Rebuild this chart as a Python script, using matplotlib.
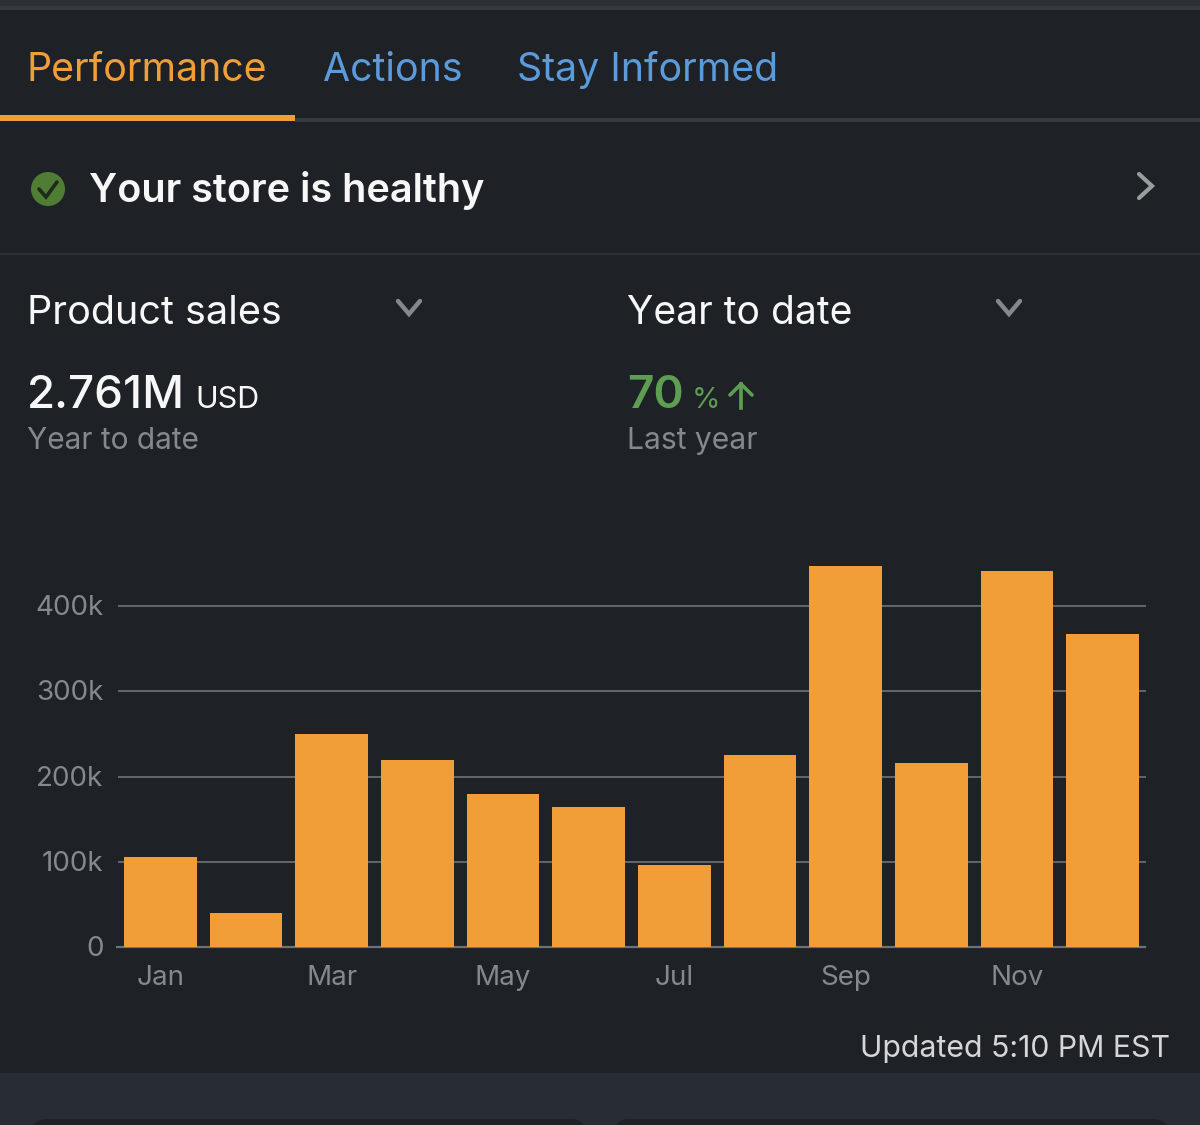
import matplotlib
matplotlib.use('Agg')
import matplotlib.pyplot as plt
from matplotlib.patches import Circle, FancyBboxPatch, Rectangle
from matplotlib.transforms import ScaledTranslation

months = ['Jan', 'Feb', 'Mar', 'Apr', 'May', 'Jun', 'Jul', 'Aug', 'Sep', 'Oct', 'Nov', 'Dec']
sales_k = [105.5, 40, 250, 219, 179.5, 164, 96, 225, 447, 216, 441, 367]
y_ticks = [0, 100, 200, 300, 400]
y_labels = ['0', '100k', '200k', '300k', '400k']
shown_months = ['Jan', 'Mar', 'May', 'Jul', 'Sep', 'Nov']

BG = '#1e2227'
PANEL = '#282c34'
ORANGE = '#f29e38'
BLUE = '#5b9bdc'
GREEN = '#5e9e52'
GREY = '#85888c'
WHITE = '#f7f7f7'
W, H = 1200, 1125

plt.rcParams['font.family'] = ['Inter', 'DejaVu Sans']

fig = plt.figure(figsize=(W / 100, H / 100), dpi=100, facecolor=BG)

# page furniture, laid out in pixels
ui = fig.add_axes([0, 0, 1, 1])
ui.set_xlim(0, W)
ui.set_ylim(H, 0)
ui.axis('off')

ui.add_patch(Rectangle((0, 0), W, 6, color='#2b2e33', lw=0))
ui.add_patch(Rectangle((0, 6), W, 4, color='#35383d', lw=0))
ui.add_patch(Rectangle((295, 118), W - 295, 4, color='#353a42', lw=0))
ui.add_patch(Rectangle((0, 115), 295, 6, color=ORANGE, lw=0))
ui.add_patch(Rectangle((0, 253), W, 2, color='#2c3036', lw=0))
ui.add_patch(Rectangle((0, 1073), W, H - 1073, color=PANEL, lw=0))
for x0 in (32, 615):
    ui.add_patch(FancyBboxPatch((x0 + 14, 1133), 553 - 28, 20, boxstyle='round,pad=14',
                                fc=BG, ec='none'))


def label(x, y, s, size, color, weight='normal', ha='left'):
    ui.text(x, y, s, fontsize=size, color=color, fontweight=weight, ha=ha, va='baseline')


def chevron(pts, color, lw):
    xs, ys = zip(*pts)
    ui.plot(xs, ys, color=color, lw=lw, solid_capstyle='round', solid_joinstyle='miter')


label(26.5, 81, 'Performance', 28.3, ORANGE)
label(323, 81, 'Actions', 28.3, BLUE)
label(517, 81, 'Stay Informed', 28.3, BLUE)

ui.add_patch(Circle((48, 189), 17, fc='#4f7d34', ec='none'))
chevron([(39, 189), (46, 197), (57, 182)], '#1e2a1c', 2.6)
label(89, 202, 'Your store is healthy', 28.5, WHITE, weight='semibold')
chevron([(1139, 174), (1152, 186), (1139, 198)], '#9a9da0', 3)

label(27, 324, 'Product sales', 28.5, WHITE)
chevron([(398, 301), (409, 314), (420, 301)], '#85888c', 3.2)
label(627, 324, 'Year to date', 28.1, WHITE)
chevron([(998, 301), (1009, 314), (1020, 301)], '#85888c', 3.2)

label(27, 408, '2.761M', 33, WHITE, weight='medium')
label(195, 408, 'USD', 22, WHITE)
label(27, 449, 'Year to date', 21.5, GREY)

label(627, 408, '70', 33, GREEN, weight='semibold')
label(692, 408, '%', 21, GREEN)
ui.plot([741, 741], [408, 384], color=GREEN, lw=2.6)
chevron([(730, 395), (741, 384), (752, 395)], GREEN, 2.6)
label(627, 449, 'Last year', 21.6, GREY)

label(1170, 1057, 'Updated 5:10 PM EST', 21.8, '#d5d6d8', ha='right')

# monthly sales bars
left, right, top, bottom = 117.5, 1145.5, 555, 947
ax = fig.add_axes([left / W, 1 - bottom / H, (right - left) / W, (bottom - top) / H])
ax.set_facecolor('none')
ax.bar(range(len(months)), sales_k, width=0.852, color=ORANGE, zorder=3)
ax.set_xlim(-0.5, 11.5)
ax.set_ylim(0, (bottom - top) / 0.8525)
ax.set_yticks(y_ticks)
ax.set_yticklabels(y_labels)
ax.set_xticks([months.index(m) for m in shown_months])
ax.set_xticklabels(shown_months)
ax.tick_params(length=0, labelsize=20, labelcolor=GREY)
ax.tick_params(axis='y', pad=10)
ax.tick_params(axis='x', pad=13)
# y labels sit slightly above their grid lines
nudge = ScaledTranslation(0, 1 / 100, fig.dpi_scale_trans)
for t in ax.get_yticklabels():
    t.set_transform(t.get_transform() + nudge)
ax.grid(axis='y', color='#6f7377', linewidth=1.2, zorder=1)
ax.set_axisbelow(True)
for side in ['top', 'right', 'left']:
    ax.spines[side].set_visible(False)
ax.spines['bottom'].set_color('#6d7276')
ax.spines['bottom'].set_linewidth(1.6)

fig.savefig('out.png', dpi=100, facecolor=BG)
